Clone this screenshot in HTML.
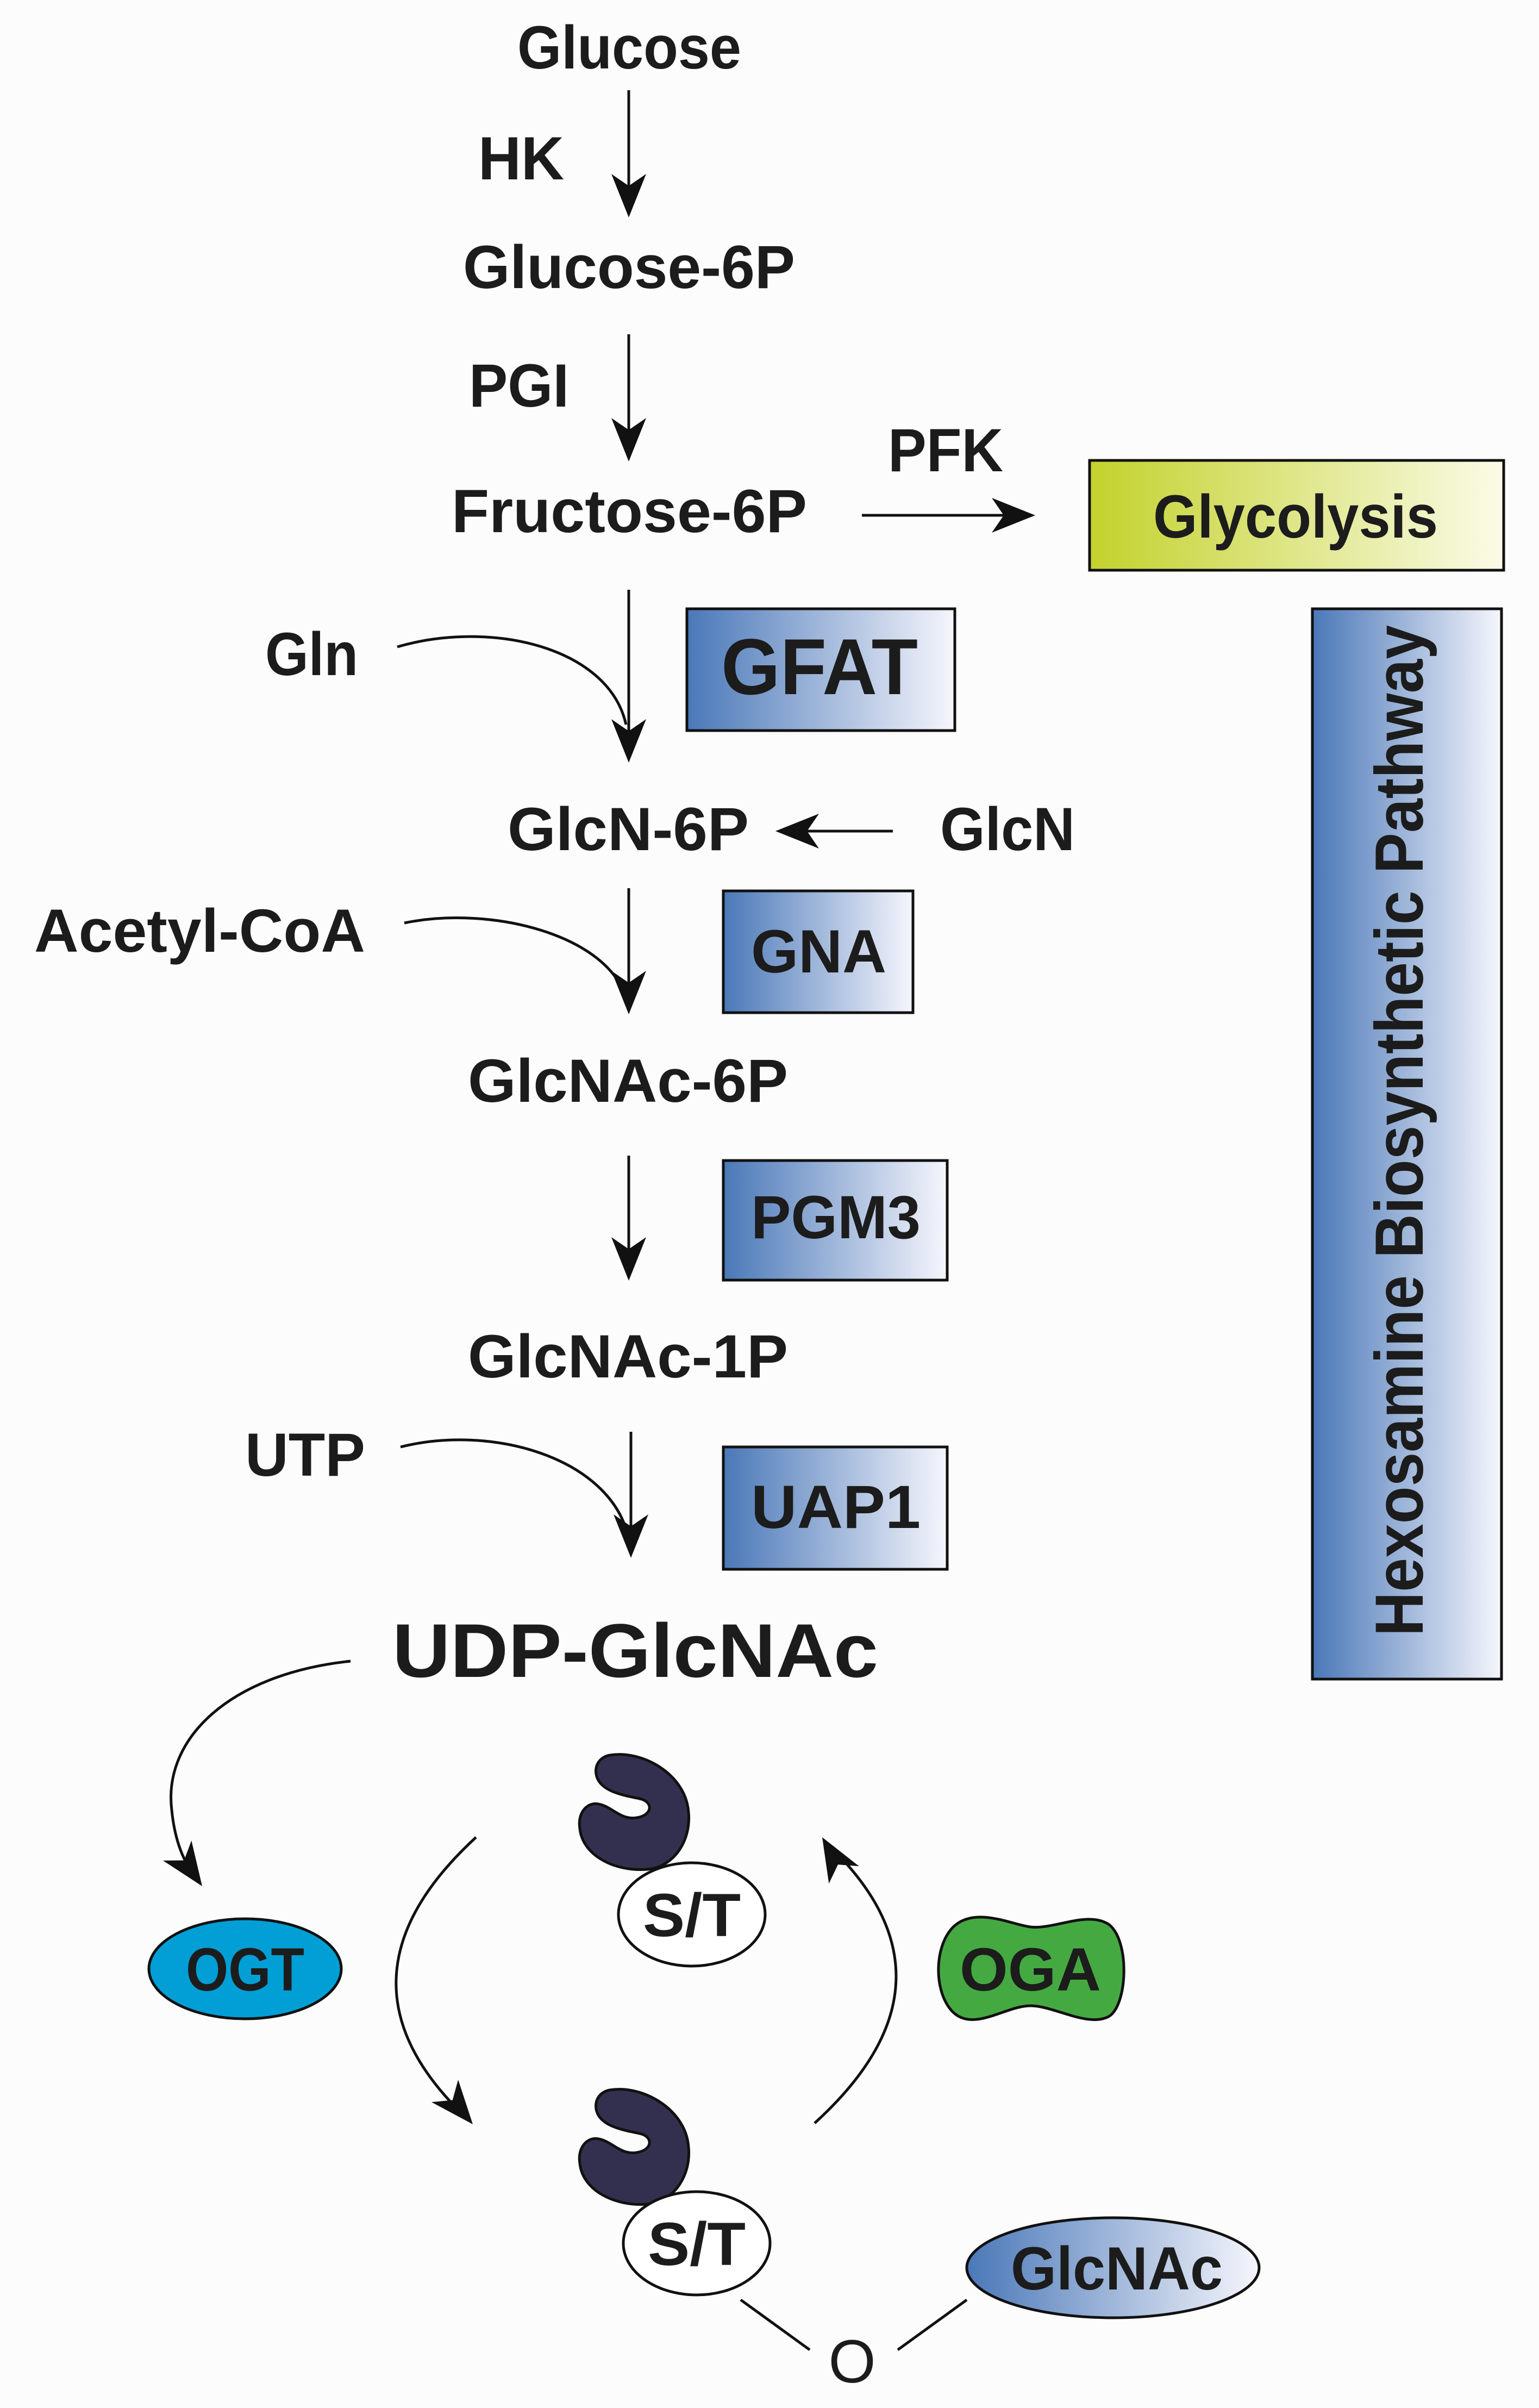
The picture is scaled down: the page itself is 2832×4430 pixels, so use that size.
<!DOCTYPE html>
<html><head><meta charset="utf-8"><style>
html,body{margin:0;padding:0;background:#fcfcfc;}
svg{display:block;}
text{font-family:"Liberation Sans",sans-serif;font-weight:bold;fill:#1c1c1c;}
</style></head><body>
<svg width="2832" height="4430" viewBox="0 0 2832 4430" xmlns="http://www.w3.org/2000/svg">
<defs>
<linearGradient id="gb" x1="0" x2="1" y1="0" y2="0"><stop offset="0" stop-color="#4a78b8"/><stop offset="1" stop-color="#f6f6fc"/></linearGradient>
<linearGradient id="gy" x1="0" x2="1" y1="0" y2="0"><stop offset="0" stop-color="#c3d22c"/><stop offset="1" stop-color="#fbfbe8"/></linearGradient>
<path id="ah" d="M0,0 L-32,-80 L0,-58 L32,-80Z" fill="#111"/>
<path id="prot" d="M60,5 C120,-5 200,40 205,110 C210,160 180,210 130,215 C70,220 10,190 5,140 C0,110 20,90 40,95 C65,100 80,125 110,120 C140,115 140,90 115,85 C80,78 40,70 35,40 C32,20 45,8 60,5 Z" fill="#33304f" stroke="#111" stroke-width="5"/>
</defs>
<rect width="2832" height="4430" fill="#fcfcfc"/>
<g stroke="#111" stroke-width="5" fill="none">
<line x1="1157" y1="166" x2="1157" y2="360"/>
<line x1="1157" y1="615" x2="1157" y2="810"/>
<line x1="1157" y1="1085" x2="1157" y2="1360"/>
<line x1="1157" y1="1634" x2="1157" y2="1830"/>
<line x1="1157" y1="2126" x2="1157" y2="2320"/>
<line x1="1161" y1="2634" x2="1161" y2="2830"/>
<line x1="1586" y1="948" x2="1870" y2="948"/>
<line x1="1643" y1="1529" x2="1460" y2="1529"/>
<path d="M731,1190 C903,1140 1120,1190 1152,1333"/>
<path d="M744,1698 C903,1665 1120,1720 1152,1838"/>
<path d="M737,2662 C903,2620 1120,2680 1156,2826"/>
<path d="M645,3056 C420,3080 300,3200 316,3330 C322,3390 340,3430 362,3455"/>
<path d="M876,3380 Q590,3643 860,3898"/>
<path d="M1499,3906 Q1788,3643 1520,3390"/>
<line x1="1363" y1="4231" x2="1490" y2="4323"/>
<line x1="1652" y1="4323" x2="1779" y2="4231"/>
</g>
<use href="#ah" transform="translate(1157,400)"/>
<use href="#ah" transform="translate(1157,849)"/>
<use href="#ah" transform="translate(1157,1403)"/>
<use href="#ah" transform="translate(1157,1866)"/>
<use href="#ah" transform="translate(1157,2356)"/>
<use href="#ah" transform="translate(1161,2866)"/>
<use href="#ah" transform="translate(1905,948) rotate(-90)"/>
<use href="#ah" transform="translate(1427,1529) rotate(90)"/>
<use href="#ah" transform="translate(372,3470) rotate(-35)"/>
<use href="#ah" transform="translate(870,3908) rotate(-40)"/>
<use href="#ah" transform="translate(1513,3380) rotate(150)"/>

<rect x="2005" y="847" width="762" height="202" fill="url(#gy)" stroke="#111" stroke-width="5"/>
<rect x="1264" y="1120" width="493" height="224" fill="url(#gb)" stroke="#111" stroke-width="5"/>
<rect x="2415" y="1120" width="348" height="1969" fill="url(#gb)" stroke="#111" stroke-width="5"/>
<rect x="1331" y="1639" width="349" height="224" fill="url(#gb)" stroke="#111" stroke-width="5"/>
<rect x="1331" y="2135" width="412" height="220" fill="url(#gb)" stroke="#111" stroke-width="5"/>
<rect x="1331" y="2662" width="412" height="225" fill="url(#gb)" stroke="#111" stroke-width="5"/>

<text x="952" y="126" font-size="112" textLength="412" lengthAdjust="spacingAndGlyphs">Glucose</text>
<text x="880" y="330" font-size="112" textLength="158" lengthAdjust="spacingAndGlyphs">HK</text>
<text x="852" y="530" font-size="112" textLength="611" lengthAdjust="spacingAndGlyphs">Glucose-6P</text>
<text x="863" y="748" font-size="112" textLength="184" lengthAdjust="spacingAndGlyphs">PGI</text>
<text x="831" y="979" font-size="112" textLength="654" lengthAdjust="spacingAndGlyphs">Fructose-6P</text>
<text x="1634" y="867" font-size="112" textLength="212" lengthAdjust="spacingAndGlyphs">PFK</text>
<text x="2122" y="989" font-size="112" textLength="524" lengthAdjust="spacingAndGlyphs">Glycolysis</text>
<text x="488" y="1242" font-size="112" textLength="171" lengthAdjust="spacingAndGlyphs">Gln</text>
<text x="1327" y="1277" font-size="146" textLength="362" lengthAdjust="spacingAndGlyphs">GFAT</text>
<text x="934" y="1564" font-size="112" textLength="444" lengthAdjust="spacingAndGlyphs">GlcN-6P</text>
<text x="1730" y="1564" font-size="112" textLength="248" lengthAdjust="spacingAndGlyphs">GlcN</text>
<text x="63" y="1751" font-size="112" textLength="609" lengthAdjust="spacingAndGlyphs">Acetyl-CoA</text>
<text x="1382" y="1789" font-size="112" textLength="249" lengthAdjust="spacingAndGlyphs">GNA</text>
<text x="861" y="2027" font-size="112" textLength="589" lengthAdjust="spacingAndGlyphs">GlcNAc-6P</text>
<text x="1382" y="2278" font-size="112" textLength="312" lengthAdjust="spacingAndGlyphs">PGM3</text>
<text x="861" y="2534" font-size="112" textLength="589" lengthAdjust="spacingAndGlyphs">GlcNAc-1P</text>
<text x="451" y="2715" font-size="112" textLength="221" lengthAdjust="spacingAndGlyphs">UTP</text>
<text x="1382" y="2811" font-size="112" textLength="312" lengthAdjust="spacingAndGlyphs">UAP1</text>
<text x="722" y="3085" font-size="140" textLength="894" lengthAdjust="spacingAndGlyphs">UDP-GlcNAc</text>
<text transform="translate(2618,2080) rotate(-90)" text-anchor="middle" font-size="125" textLength="1860" lengthAdjust="spacingAndGlyphs">Hexosamine Biosynthetic Pathway</text>

<ellipse cx="451" cy="3622" rx="177" ry="92" fill="#019fd6" stroke="#111" stroke-width="5"/>
<text x="451" y="3662" text-anchor="middle" font-size="112" textLength="218" lengthAdjust="spacingAndGlyphs">OGT</text>
<path d="M1760,3540 C1800,3510 1860,3540 1896,3545 C1940,3550 2000,3515 2040,3540 C2080,3570 2075,3690 2040,3710 C2000,3730 1940,3690 1896,3690 C1850,3690 1790,3740 1752,3700 C1715,3660 1720,3570 1760,3540Z" fill="#45a942" stroke="#111" stroke-width="5"/>
<text x="1896" y="3662" text-anchor="middle" font-size="112" textLength="260" lengthAdjust="spacingAndGlyphs">OGA</text>

<use href="#prot" transform="translate(1062,3224)"/>
<ellipse cx="1273" cy="3522" rx="135" ry="95" fill="#fff" stroke="#111" stroke-width="5"/>
<text x="1273" y="3562" text-anchor="middle" font-size="112" textLength="180" lengthAdjust="spacingAndGlyphs">S/T</text>
<use href="#prot" transform="translate(1062,3840)"/>
<ellipse cx="1282" cy="4127" rx="135" ry="95" fill="#fff" stroke="#111" stroke-width="5"/>
<text x="1282" y="4167" text-anchor="middle" font-size="112" textLength="180" lengthAdjust="spacingAndGlyphs">S/T</text>
<ellipse cx="2048" cy="4172" rx="269" ry="92" fill="url(#gb)" stroke="#111" stroke-width="5"/>
<text x="2055" y="4212" text-anchor="middle" font-size="112" textLength="390" lengthAdjust="spacingAndGlyphs">GlcNAc</text>
<text x="1568" y="4383" text-anchor="middle" font-size="112" font-weight="normal" style="font-weight:normal">O</text>
</svg>
</body></html>
